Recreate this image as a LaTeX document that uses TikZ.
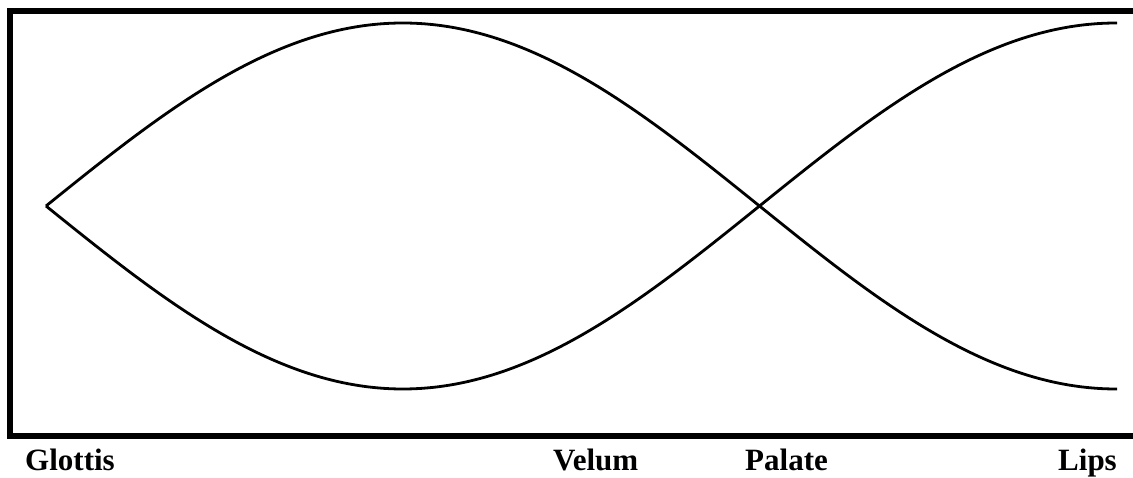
\documentclass[tikz,border=0pt]{standalone}
\usepackage{fontspec}
\setmainfont{Liberation Serif}
\begin{document}
\begin{tikzpicture}[x=1pt,y=-1pt,
  frame/.style={line width=6pt,line cap=butt,line join=miter},
  wave/.style={line width=2.8pt,line join=round},
  lbl/.style={anchor=base west,inner sep=0pt,font=\fontsize{31}{31}\selectfont\bfseries}]
\useasboundingbox (0,0) rectangle (1133,478);
\begin{scope}
\clip (0,0) rectangle (1133,478);
\draw[frame] (1150,11) -- (10,11) -- (10,436) -- (1150,436);
\end{scope}
\draw[wave] plot[domain=46:1117,samples=200,smooth] (\x,{206-183*sin((\x-46)/713.5*180)});
\draw[wave] plot[domain=46:1117,samples=200,smooth] (\x,{206+183*sin((\x-46)/713.5*180)});
\node[lbl] (glottis) at (25,470) {Glottis};
\node[lbl] (velum) at (553,470) {Velum};
\node[lbl] (palate) at (745,470) {Palate};
\node[lbl] (lips) at (1058,470) {Lips};
\end{tikzpicture}
\end{document}
